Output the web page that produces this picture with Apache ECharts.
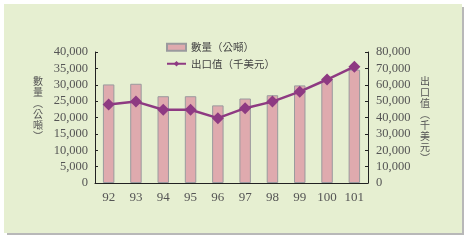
<!DOCTYPE html>
<html><head><meta charset="utf-8">
<script src="https://cdn.jsdelivr.net/npm/echarts@6/dist/echarts.min.js"></script>
<style>html,body{margin:0;padding:0;background:#fff}#c{width:473px;height:240px}</style>
</head><body><div id="c"></div>
<script>
const categories = ['92','93','94','95','96','97','98','99','100','101'];
const quantity = [30100, 30300, 26500, 26500, 23700, 25800, 26800, 29800, 31500, 34600];
const exportValue = [48000, 49700, 44700, 44700, 39600, 45700, 49700, 55800, 63200, 71000];
const leftTicks = [0, 5000, 10000, 15000, 20000, 25000, 30000, 35000, 40000];
const rightTicks = [0, 10000, 20000, 30000, 40000, 50000, 60000, 70000, 80000];
const nameQ = '數量（公噸）';
const nameV = '出口值（千美元）';
const vert = s => s.replace('（','︵').replace('）','︶').split('').join('\n');

const chart = echarts.init(document.getElementById('c'), null, {renderer:'canvas'});
const fmt = v => v.toLocaleString('en-US');
const serif = '"Liberation Serif","DejaVu Serif",serif';
const cjk = '"Noto Sans CJK TC","Noto Sans CJK SC",sans-serif';
chart.setOption({
  animation:false,
  backgroundColor:'#fff',
  graphic:[
    {type:'rect', z:-10, shape:{x:7,y:7,width:457,height:228}, style:{fill:'#b8b8b8'}},
    {type:'rect', z:-9, shape:{x:4,y:4,width:458,height:229}, style:{fill:'#e6efd1'}},
    {type:'text', left:33, top:76, style:{text:vert(nameQ), font:'10px '+cjk, fill:'#555', lineHeight:11, align:'center'}},
    {type:'text', left:420, top:76, style:{text:vert(nameV), font:'10px '+cjk, fill:'#555', lineHeight:11, align:'center'}}
  ],
  legend:{
    orient:'vertical', left:161, top:37, itemGap:6, itemWidth:19, itemHeight:7,
    textStyle:{fontFamily:cjk, fontSize:10.5, color:'#444'},
    data:[{name:nameQ, icon:'rect'}, {name:nameV}]
  },
  grid:{left:95, right:105, top:52, bottom:57},
  xAxis:{
    type:'category', data:categories,
    axisLine:{lineStyle:{color:'#222'}},
    axisTick:{inside:true, length:4, lineStyle:{color:'#222'}},
    axisLabel:{fontFamily:serif, fontSize:13, color:'#555', margin:8}
  },
  yAxis:[
    {type:'value', min:0, max:40000, interval:5000,
     axisLine:{show:true, lineStyle:{color:'#222'}},
     axisTick:{show:true, inside:true, length:3, lineStyle:{color:'#222'}},
     splitLine:{show:false},
     axisLabel:{formatter:fmt, fontFamily:serif, fontSize:12.5, color:'#555', margin:7}},
    {type:'value', min:0, max:80000, interval:10000,
     axisLine:{show:true, lineStyle:{color:'#222'}},
     axisTick:{show:true, inside:true, length:3, lineStyle:{color:'#222'}},
     splitLine:{show:false},
     axisLabel:{formatter:fmt, fontFamily:serif, fontSize:12.5, color:'#555', margin:8, align:'left'}}
  ],
  series:[
    {name:nameQ, type:'bar', data:quantity, yAxisIndex:0, barWidth:'42%',
     itemStyle:{color:'#dfaaae', borderColor:'#9a9a9e', borderWidth:1}},
    {name:nameV, type:'line', data:exportValue, yAxisIndex:1,
     symbol:'diamond', symbolSize:12,
     lineStyle:{color:'#8e3a82', width:2.5},
     itemStyle:{color:'#8e3a82'}}
  ]
});
</script></body></html>
